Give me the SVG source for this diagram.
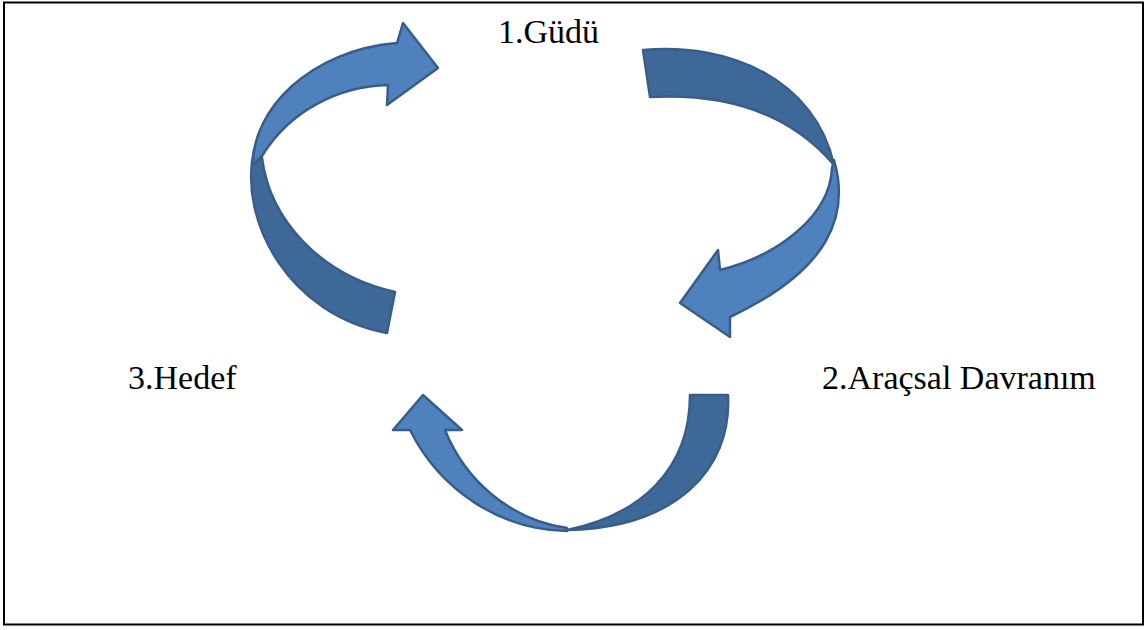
<svg xmlns="http://www.w3.org/2000/svg" width="1148" height="630" viewBox="0 0 1148 630">
<style>
.light{fill:#4f81bd;stroke:#385d8a;stroke-width:2.5;stroke-linejoin:round}
.dark{fill:#3e6898;stroke:#385d8a;stroke-width:2.5;stroke-linejoin:round}
</style>
<rect x="0" y="0" width="1148" height="630" fill="#fff"/>
<rect x="4" y="2.5" width="1139" height="622" fill="none" stroke="#000" stroke-width="2"/>
<g id="connectors">
  <g id="arrow-hedef-gudu">
    <path class="dark" d="M 254,150 C 238,222 290,315 387,333 L 395,292 C 320,275 270,220 262,158 Z"/>
    <path class="light" d="M 253,165 C 252,110 310,50 397,43 L 403,23 L 438,68 L 387,105 L 388,85 C 340,86 290,110 262,156 Z"/>
  </g>
  <g id="arrow-gudu-arac">
    <path class="dark" d="M 643,50 C 730,42 815,80 834,165 C 800,125 745,92 650,97 Z"/>
    <path class="light" d="M 834,160 C 850,215 830,270 730,317 L 730,337 L 680,303 L 718,250 L 720,270 C 780,255 830,215 832,168 Z"/>
  </g>
  <g id="arrow-arac-hedef">
    <path class="dark" d="M 690,395 L 728,395 C 732,470 675,528 567,530 C 640,515 690,470 690,395 Z"/>
    <path class="light" d="M 567,531 C 500,530 440,490 410,430 L 393,430 L 423,395 L 462,430 L 445,430 C 465,480 510,520 567,528 Z"/>
  </g>
</g>
<g font-family="'Liberation Serif', 'Times New Roman', 'DejaVu Serif', serif" font-size="34" fill="#000">
<g id="node-gudu"><text x="498" y="43">1.Güdü</text></g>
<g id="node-arac"><text x="822" y="389">2.Araçsal Davranım</text></g>
<g id="node-hedef"><text x="128" y="389">3.Hedef</text></g>
</g>
</svg>
